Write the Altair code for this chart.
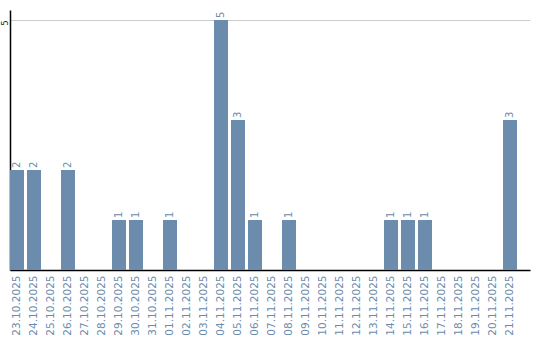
import altair as alt
import pandas as pd

dates = ["23.10.2025", "24.10.2025", "25.10.2025", "26.10.2025", "27.10.2025",
         "28.10.2025", "29.10.2025", "30.10.2025", "31.10.2025", "01.11.2025",
         "02.11.2025", "03.11.2025", "04.11.2025", "05.11.2025", "06.11.2025",
         "07.11.2025", "08.11.2025", "09.11.2025", "10.11.2025", "11.11.2025",
         "12.11.2025", "13.11.2025", "14.11.2025", "15.11.2025", "16.11.2025",
         "17.11.2025", "18.11.2025", "19.11.2025", "20.11.2025", "21.11.2025"]
counts = [2, 2, 0, 2, 0, 0, 1, 1, 0, 1, 0, 0, 5, 3, 1, 0, 1, 0, 0, 0, 0, 0, 1, 1, 1, 0, 0, 0, 0, 3]

df = pd.DataFrame({"date": dates, "count": counts})
df["label"] = df["count"].apply(lambda v: str(v) if v > 0 else "")

BAR = "#6b8cad"
FONT = "DejaVu Sans"

x = alt.X("date:N", sort=dates,
          scale=alt.Scale(paddingInner=0.1765, paddingOuter=0.382, align=0),
          axis=alt.Axis(title=None, labelAngle=270, labelAlign="right", labelBaseline="middle",
                        labelColor=BAR, labelFont=FONT, labelFontSize=10.5, ticks=False,
                        labelPadding=5, domainColor="#000000", domainWidth=1.5, grid=False))
y = alt.Y("count:Q", scale=alt.Scale(domain=[0, 5.2], nice=False),
          axis=alt.Axis(title=None, values=[5], labelAngle=270, labelAlign="right",
                        labelBaseline="bottom", labelColor="#222222", labelFont=FONT,
                        labelFontSize=8, ticks=False, labelPadding=1,
                        domainColor="#000000", domainWidth=1.5,
                        grid=True, gridColor="#cccccc", gridWidth=1))

bars = alt.Chart(df).mark_bar(color=BAR).encode(x=x, y=y)
text = alt.Chart(df).mark_text(angle=270, align="left", baseline="middle", dx=2,
                               color=BAR, font=FONT, fontSize=10).encode(
    x=alt.X("date:N", sort=dates), y="count:Q", text="label:N")

chart = alt.layer(bars, text).properties(
    width=520, height=260,
    background="white",
    autosize=alt.AutoSizeParams(type="none"),
    padding={"left": 10, "top": 10, "right": 10, "bottom": 70},
).configure_view(stroke=None, strokeWidth=0)

chart.save("out.html", embed_options={"renderer": "svg", "actions": False})
